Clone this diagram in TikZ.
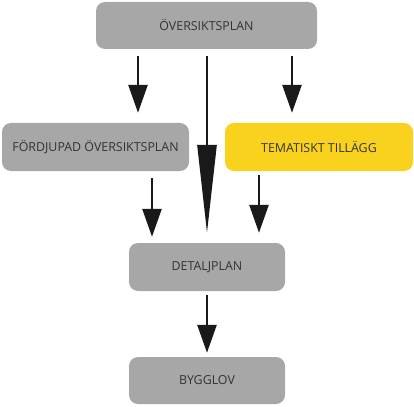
\documentclass[tikz,border=0pt]{standalone}
\usepackage{fontspec}
\setmainfont{Open Sans}
\usetikzlibrary{arrows.meta}
\definecolor{boxgray}{HTML}{A7A7A7}
\definecolor{boxyellow}{HTML}{F9D21E}
\definecolor{txt}{HTML}{333333}
\begin{document}
\begin{tikzpicture}[x=1pt,y=-1pt,
  box/.style={draw=none, fill=boxgray, rounded corners=9pt, text=txt,
    font=\fontsize{12.4}{14}\selectfont, inner sep=0pt, anchor=center},
  arr/.style={line width=2.6pt, black!90, -{Triangle[width=19pt,length=28pt]}},
  longarr/.style={line width=2.6pt, black!90, -{Triangle[width=19pt,length=88pt]}}]
\useasboundingbox (0,0) rectangle (414,406);
\node[box, minimum width=221pt, minimum height=47pt] (ovp) at (206.5,25.5) {ÖVERSIKTSPLAN};
\node[box, minimum width=187pt, minimum height=48pt] (fd) at (95.5,147) {FÖRDJUPAD ÖVERSIKTSPLAN};
\node[box, fill=boxyellow, minimum width=188pt, minimum height=48pt] (tt) at (319,147) {TEMATISKT TILLÄGG};
\node[box, minimum width=156pt, minimum height=48pt] (dp) at (207,267) {DETALJPLAN};
\node[box, minimum width=156pt, minimum height=47pt] (bg) at (207,380.5) {BYGGLOV};
\draw[arr, shorten <=7pt, shorten >=10pt] (ovp.south -| 138,0) -- (fd.north -| 138,0);
\draw[arr, shorten <=7pt, shorten >=10pt] (ovp.south -| 292,0) -- (tt.north -| 292,0);
\draw[longarr, shorten <=7pt, shorten >=10pt] (ovp.south -| 207,0) -- (dp.north -| 207,0);
\draw[arr, shorten <=7pt, shorten >=6pt] (fd.south -| 152,0) -- (dp.north -| 152,0);
\draw[arr, shorten <=4pt, shorten >=10pt] (tt.south -| 259,0) -- (dp.north -| 259,0);
\draw[arr, shorten <=4pt, shorten >=4pt] (dp.south) -- (bg.north);
\end{tikzpicture}
\end{document}
